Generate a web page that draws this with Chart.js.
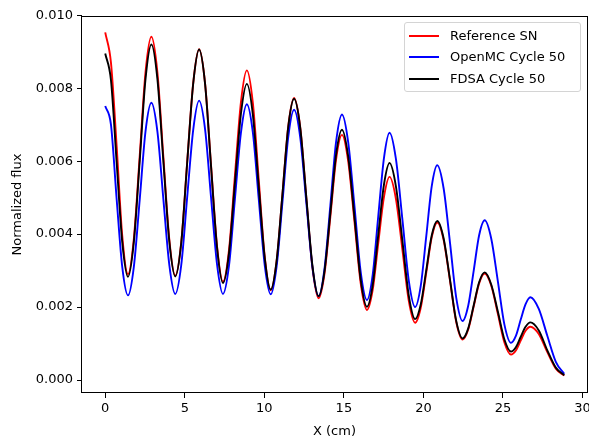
<!DOCTYPE html>
<html>
<head>
<meta charset="utf-8">
<script src="https://cdn.jsdelivr.net/npm/chart.js@4.4.1/dist/chart.umd.min.js"></script>
<style>
    html, body { margin: 0; padding: 0; background: #fff; }
    #chartContainer { position: relative; width: 589px; height: 442px; }
    #legend {
        position: absolute; left: 404px; top: 22px; width: 177px; height: 70px;
        box-sizing: border-box; border: 1px solid #d4d4d4; border-radius: 3px;
        background: rgba(255, 255, 255, 0.8);
        font-family: "DejaVu Sans", sans-serif; font-size: 13px; color: #000;
    }
    .legend-row { position: absolute; left: 0; height: 16px; width: 100%; }
    .legend-line { position: absolute; left: 4px; top: 7px; width: 30px; height: 2px; }
    .legend-text { position: absolute; left: 45px; top: 0; line-height: 16px; white-space: nowrap; }
</style>
</head>
<body>
<div id="chartContainer">
    <canvas id="myChart" width="589" height="442"></canvas>
    <div id="legend"></div>
</div>
<script>
// x positions (cm) read at peaks, troughs and between them
const xs = [0, 0.36, 0.72, 1.07, 1.43,
    1.80, 2.17, 2.53, 2.90,
    3.28, 3.65, 4.03, 4.40,
    4.78, 5.15, 5.53, 5.90,
    6.28, 6.65, 7.03, 7.40,
    7.78, 8.15, 8.53, 8.90,
    9.28, 9.65, 10.03, 10.40,
    10.77, 11.14, 11.50, 11.87,
    12.26, 12.64, 13.03, 13.41,
    13.78, 14.15, 14.51, 14.88,
    15.27, 15.67, 16.06, 16.45,
    16.81, 17.16, 17.52, 17.87,
    18.27, 18.68, 19.08, 19.48,
    19.83, 20.18, 20.52, 20.87,
    21.27, 21.67, 22.06, 22.46,
    22.81, 23.16, 23.50, 23.85,
    24.26, 24.68, 25.09, 25.50,
    25.81, 26.11, 26.42, 26.72,
    27.25, 27.78, 28.32, 28.85];

const referenceSN = [0.00953, 0.00870, 0.00640, 0.00395, 0.00290,
    0.00388, 0.00616, 0.00843, 0.00941,
    0.00843, 0.00614, 0.00384, 0.00286,
    0.00379, 0.00597, 0.00814, 0.00907,
    0.00811, 0.00589, 0.00366, 0.00270,
    0.00357, 0.00560, 0.00762, 0.00849,
    0.00759, 0.00548, 0.00336, 0.00246,
    0.00325, 0.00510, 0.00694, 0.00773,
    0.00691, 0.00499, 0.00306, 0.00224,
    0.00291, 0.00448, 0.00605, 0.00672,
    0.00600, 0.00432, 0.00264, 0.00192,
    0.00247, 0.00375, 0.00502, 0.00557,
    0.00497, 0.00357, 0.00217, 0.00157,
    0.00198, 0.00295, 0.00391, 0.00432,
    0.00384, 0.00272, 0.00159, 0.00111,
    0.00138, 0.00202, 0.00265, 0.00292,
    0.00259, 0.00181, 0.00103, 0.00070,
    0.00081, 0.00108, 0.00135, 0.00146,
    0.00126, 0.00077, 0.00031, 0.00012];

const openmc = [0.00751, 0.00700, 0.00495, 0.00310, 0.00232,
    0.00311, 0.00496, 0.00681, 0.00760,
    0.00681, 0.00498, 0.00315, 0.00236,
    0.00316, 0.00501, 0.00686, 0.00766,
    0.00686, 0.00501, 0.00316, 0.00236,
    0.00314, 0.00496, 0.00678, 0.00756,
    0.00678, 0.00496, 0.00313, 0.00235,
    0.00311, 0.00488, 0.00665, 0.00741,
    0.00664, 0.00486, 0.00307, 0.00230,
    0.00305, 0.00479, 0.00653, 0.00728,
    0.00652, 0.00474, 0.00295, 0.00219,
    0.00288, 0.00449, 0.00609, 0.00678,
    0.00606, 0.00439, 0.00272, 0.00200,
    0.00258, 0.00395, 0.00531, 0.00589,
    0.00525, 0.00376, 0.00226, 0.00162,
    0.00203, 0.00300, 0.00397, 0.00438,
    0.00388, 0.00270, 0.00152, 0.00102,
    0.00121, 0.00165, 0.00208, 0.00227,
    0.00195, 0.00122, 0.00050, 0.00017];

const fdsa = [0.00895, 0.00822, 0.00595, 0.00378, 0.00283,
    0.00379, 0.00602, 0.00824, 0.00920,
    0.00825, 0.00602, 0.00379, 0.00284,
    0.00377, 0.00595, 0.00813, 0.00906,
    0.00810, 0.00586, 0.00362, 0.00266,
    0.00348, 0.00539, 0.00730, 0.00812,
    0.00727, 0.00530, 0.00333, 0.00248,
    0.00326, 0.00510, 0.00693, 0.00771,
    0.00690, 0.00500, 0.00311, 0.00230,
    0.00298, 0.00458, 0.00618, 0.00686,
    0.00613, 0.00444, 0.00274, 0.00201,
    0.00260, 0.00398, 0.00536, 0.00595,
    0.00531, 0.00381, 0.00231, 0.00167,
    0.00207, 0.00302, 0.00396, 0.00436,
    0.00388, 0.00275, 0.00162, 0.00114,
    0.00141, 0.00205, 0.00268, 0.00295,
    0.00262, 0.00187, 0.00111, 0.00078,
    0.00090, 0.00118, 0.00146, 0.00158,
    0.00136, 0.00082, 0.00034, 0.00013];

const xTicks = [0, 5, 10, 15, 20, 25, 30];
const yTicks = [0, 0.002, 0.004, 0.006, 0.008, 0.010];

const toPoints = (ys) => xs.map((x, i) => ({ x: x, y: ys[i] }));

const series = [
    { label: "Reference SN", values: referenceSN, color: "#ff0000", order: 3 },
    { label: "OpenMC Cycle 50", values: openmc, color: "#0000ff", order: 2 },
    { label: "FDSA Cycle 50", values: fdsa, color: "#000000", order: 1 },
];

// box around the axes, like matplotlib spines
const frame = {
    id: "frame",
    afterDraw(chart) {
        const a = chart.chartArea;
        const ctx = chart.ctx;
        ctx.save();
        ctx.strokeStyle = "#000";
        ctx.lineWidth = 1;
        ctx.strokeRect(Math.round(a.left) - 0.5, Math.round(a.top) + 0.5,
            Math.round(a.right) - Math.round(a.left) + 1, Math.round(a.bottom) - Math.round(a.top) - 1);
        ctx.restore();
    },
};

Chart.defaults.font.family = "'DejaVu Sans', sans-serif";
Chart.defaults.font.size = 13;
Chart.defaults.color = "#000";

const ctx = document.getElementById("myChart");
const myChart = new Chart(ctx, {
    type: "line",
    data: {
        datasets: series.map((s) => ({
            label: s.label,
            data: toPoints(s.values),
            borderColor: s.color,
            backgroundColor: s.color,
            borderWidth: 1.9,
            pointRadius: 0,
            cubicInterpolationMode: "monotone",
            order: s.order,
        })),
    },
    options: {
        responsive: false,
        animation: false,
        devicePixelRatio: 1,
        layout: { padding: { top: 16, right: 2, left: 0, bottom: 0 } },
        plugins: { legend: { display: false }, tooltip: { enabled: false } },
        scales: {
            x: {
                type: "linear",
                min: -1.46,
                max: 30.28,
                afterBuildTicks: (scale) => { scale.ticks = xTicks.map((v) => ({ value: v })); },
                afterFit: (scale) => { scale.height = 49; scale.paddingLeft = 0; scale.paddingRight = 0; },
                ticks: { callback: (v) => String(v), maxRotation: 0, autoSkip: false, padding: 3 },
                grid: { drawOnChartArea: false, drawTicks: true, tickLength: 5, color: "#000" },
                border: { display: false },
                title: { display: true, text: "X (cm)", padding: { top: 0, bottom: 3 } },
            },
            y: {
                type: "linear",
                min: -0.000356,
                max: 0.00998,
                afterBuildTicks: (scale) => { scale.ticks = yTicks.map((v) => ({ value: v })); },
                afterFit: (scale) => { scale.width = 82; scale.paddingTop = 0; scale.paddingBottom = 0; },
                ticks: { callback: (v) => v.toFixed(3), autoSkip: false, padding: 4 },
                grid: { drawOnChartArea: false, drawTicks: true, tickLength: 5, color: "#000" },
                border: { display: false },
                title: { display: true, text: "Normalized flux", padding: { top: 10, bottom: 0 } },
            },
        },
    },
    plugins: [frame],
});

// legend drawn inside the axes, upper right
const legend = document.getElementById("legend");
myChart.data.datasets.forEach((dataset, i) => {
    const row = document.createElement("div");
    row.className = "legend-row";
    row.style.top = 5 + i * 21.3 + "px";
    const line = document.createElement("div");
    line.className = "legend-line";
    line.style.background = dataset.borderColor;
    const text = document.createElement("span");
    text.className = "legend-text";
    text.innerText = dataset.label;
    row.appendChild(line);
    row.appendChild(text);
    legend.appendChild(row);
});
</script>
</body>
</html>
